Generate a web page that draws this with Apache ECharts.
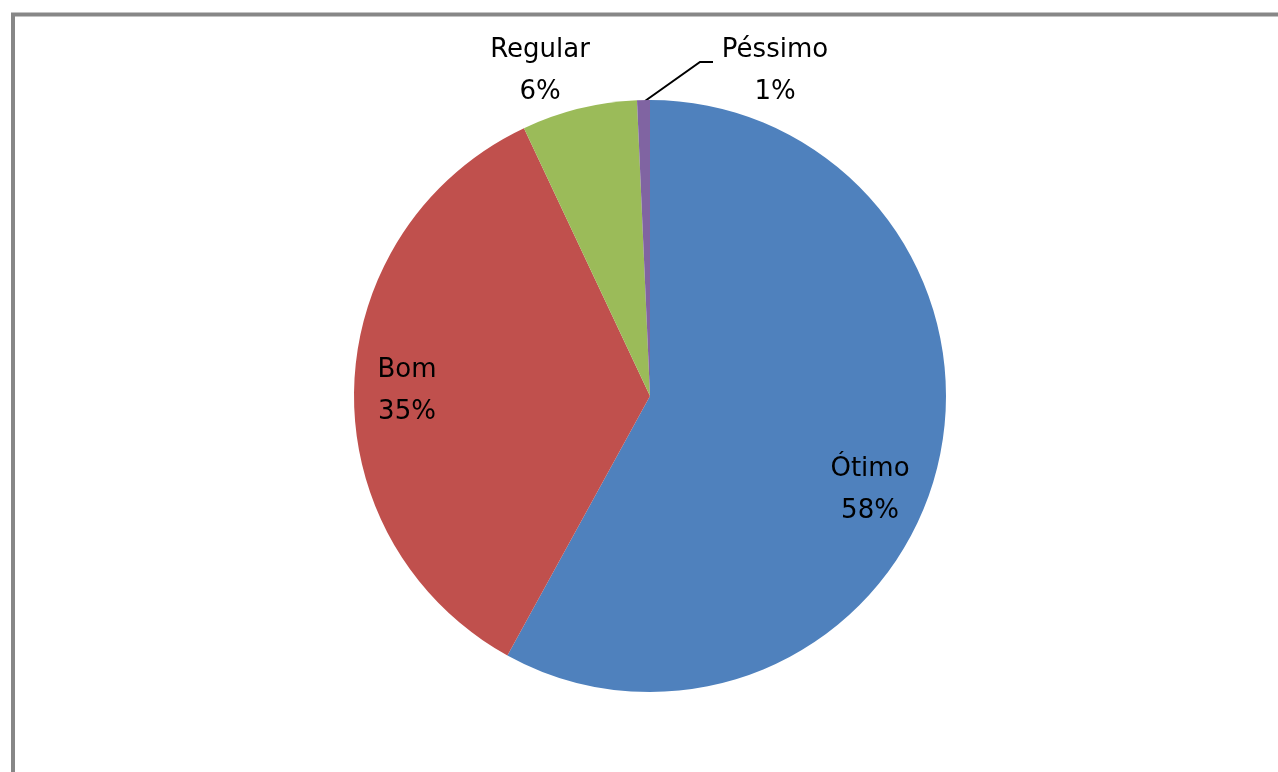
<!DOCTYPE html>
<html>
<head>
<meta charset="utf-8">
<script src="https://cdn.jsdelivr.net/npm/echarts@6/dist/echarts.min.js"></script>
<style>
html,body{margin:0;padding:0;background:#fff;}
#chart{width:1278px;height:772px;}
</style>
</head>
<body>
<div id="chart"></div>
<script>
const categories = ['Ótimo', 'Bom', 'Regular', 'Péssimo'];
const values = [58, 35, 6.3, 0.7];
const colors = ['#4F81BD', '#C0504D', '#9BBB59', '#8064A2'];

// label anchor positions (text centre), keyed by category index
const labelPos = [
  {x: 870, y: 490},
  {x: 407, y: 391},
  {x: 540, y: 71},
  {x: 775, y: 71}
];

const chart = echarts.init(document.getElementById('chart'), null, {renderer: 'canvas'});
chart.setOption({
  animation: false,
  backgroundColor: '#ffffff',
  graphic: [{
    type: 'rect',
    shape: {x: 13, y: 14.5, width: 1400, height: 900},
    style: {fill: 'none', stroke: '#878787', lineWidth: 4},
    silent: true
  }],
  series: [{
    type: 'pie',
    center: [650, 396],
    radius: 296,
    startAngle: 90,
    clockwise: true,
    data: categories.map((c, i) => ({
      name: c,
      value: values[i],
      itemStyle: {color: colors[i]},
      labelLine: {show: i === 3, lineStyle: {color: '#000', width: 2}}
    })),
    itemStyle: {borderWidth: 0},
    label: {
      show: true,
      position: 'outside',
      formatter: p => p.name + '\n' + Math.round(p.percent) + '%',
      fontFamily: 'DejaVu Sans',
      fontSize: 26,
      lineHeight: 42,
      color: '#000',
      align: 'center'
    },
    labelLine: {
      lineStyle: {color: '#000', width: 2}
    },
    labelLayout: function (params) {
      const p = labelPos[params.dataIndex];
      const out = {x: p.x, y: p.y, align: 'center', verticalAlign: 'middle', hideOverlap: false};
      if (params.dataIndex === 3) {
        out.labelLinePoints = [[645, 101], [700, 62], [713, 62]];
      }
      return out;
    },
    emphasis: {disabled: true}
  }]
});
</script>
</body>
</html>
